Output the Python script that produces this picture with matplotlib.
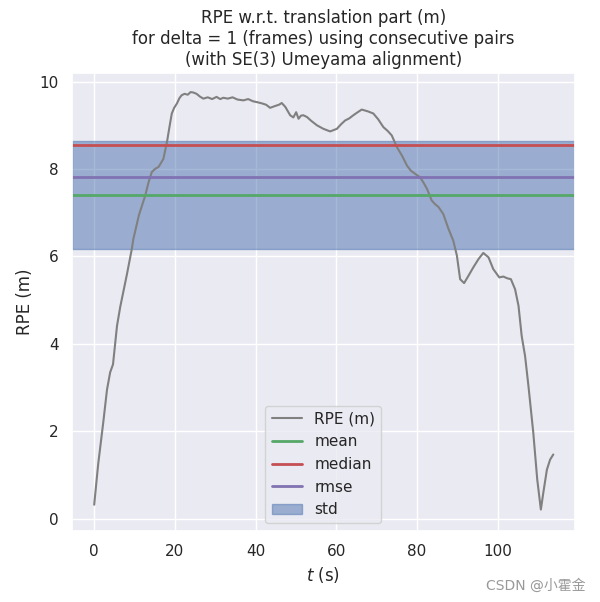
import matplotlib
matplotlib.use("Agg")
import matplotlib.pyplot as plt
import seaborn as sns

# RPE curve (time in s, error in m)
t_s = [0.0, 0.99, 2.28, 3.17, 3.96, 4.66, 5.65, 6.44, 6.84, 8.13, 9.32, 9.71,
       11.1, 12.64, 13.48, 14.27, 15.06, 15.96, 17.14, 18.04, 18.63, 19.23,
       19.82, 20.51, 21.11, 21.7, 22.4, 23.19, 23.88, 24.58, 25.37, 26.16,
       27.05, 28.14, 29.23, 30.32, 31.22, 32.01, 33.1, 34.29, 35.48, 36.96,
       38.15, 39.34, 40.33, 41.62, 42.61, 43.6, 44.79, 45.78, 46.48, 47.37,
       48.56, 49.35, 50.05, 50.64, 51.23, 51.83, 52.72, 53.81, 55.2, 56.78,
       58.47, 60.15, 61.14, 62.18, 63.23, 64.22, 65.31, 66.3, 67.78, 69.17,
       70.36, 71.65, 72.74, 73.73, 75.02, 76.31, 77.5, 78.49, 79.53, 80.77,
       81.66, 82.45, 83.64, 84.43, 85.33, 86.51, 87.8, 88.99, 89.88, 90.68,
       91.67, 92.76, 93.95, 95.24, 96.42, 97.71, 98.9, 100.39, 101.38, 102.37,
       103.26, 104.3, 105.15, 105.94, 106.78, 107.62, 108.81, 109.8, 110.69,
       111.29, 112.18, 112.97, 113.77]
rpe_m = [0.32, 1.25, 2.23, 2.95, 3.35, 3.53, 4.41, 4.84, 5.02, 5.6, 6.17, 6.4,
         6.95, 7.39, 7.7, 7.93, 8.0, 8.05, 8.23, 8.62, 8.95, 9.27, 9.4, 9.5,
         9.62, 9.69, 9.72, 9.7, 9.76, 9.75, 9.72, 9.66, 9.61, 9.64, 9.6, 9.65,
         9.6, 9.63, 9.61, 9.64, 9.59, 9.57, 9.6, 9.55, 9.53, 9.5, 9.47, 9.4,
         9.44, 9.47, 9.51, 9.42, 9.23, 9.18, 9.3, 9.15, 9.22, 9.23, 9.19, 9.1,
         9.0, 8.92, 8.86, 8.92, 9.02, 9.11, 9.16, 9.23, 9.3, 9.36, 9.32, 9.27,
         9.14, 8.96, 8.87, 8.77, 8.5, 8.3, 8.08, 7.96, 7.89, 7.81, 7.68, 7.55,
         7.28, 7.2, 7.13, 6.97, 6.63, 6.36, 6.02, 5.48, 5.39, 5.56, 5.75, 5.94,
         6.08, 5.98, 5.71, 5.52, 5.54, 5.5, 5.48, 5.25, 4.87, 4.18, 3.72, 3.03,
         1.97, 0.89, 0.21, 0.59, 1.12, 1.35, 1.47]

# statistics (sorted by name, as evo draws them)
stat_names = ["mean", "median", "rmse", "std"]
stat_values = [7.41, 8.55, 7.82, 2.48]
stat_colors = ["#55A868", "#C44E52", "#8172B2", "#4C72B0"]

sns.set_theme(style="darkgrid", context="notebook")
plt.rcParams["font.family"] = ["DejaVu Sans", "Noto Sans CJK SC"]

fig, ax = plt.subplots(figsize=(6.0, 6.02), dpi=100)
fig.subplots_adjust(left=0.12, right=0.958, bottom=0.118, top=0.879)

ax.plot(t_s, rpe_m, color="gray", linewidth=1.5, label="RPE (m)")

stats = dict(zip(stat_names, stat_values))
for name, value, color in zip(stat_names, stat_values, stat_colors):
    if name == "std":
        mean = stats["mean"]
        ax.axhspan(mean - value / 2, mean + value / 2, color=color, alpha=0.5, label=name)
    else:
        ax.axhline(y=value, color=color, linewidth=2.0, label=name)

ax.set_xlim(-5.5, 119.1)
ax.set_ylim(-0.28, 10.2)
ax.set_xlabel("$t$ (s)")
ax.set_ylabel("RPE (m)")
ax.set_title("RPE w.r.t. translation part (m)\n"
             "for delta = 1 (frames) using consecutive pairs\n"
             "(with SE(3) Umeyama alignment)", fontsize=12)
ax.legend(loc="lower center", frameon=True)

fig.text(0.975, 0.015, "CSDN @小霍金", ha="right", va="bottom",
         fontsize=10, color="#999999",
         family=["DejaVu Sans", "Noto Sans CJK SC"])

fig.savefig("out.png", dpi=100)
